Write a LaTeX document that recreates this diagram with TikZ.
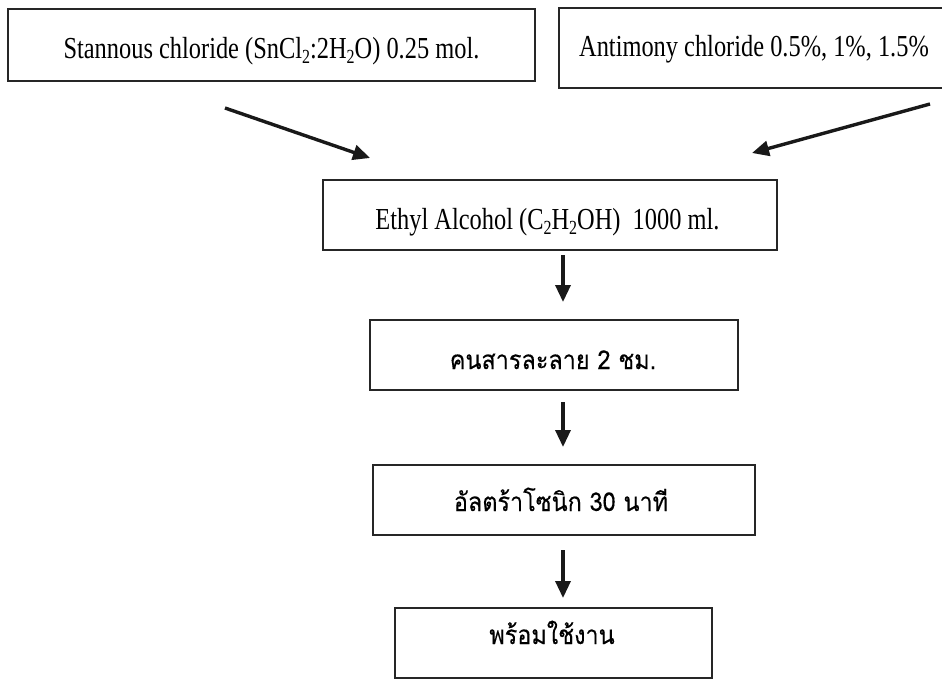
\documentclass[tikz,border=0pt]{standalone}
\usepackage{fontspec}
\setmainfont[FakeStretch=0.8]{Liberation Serif}
\newfontfamily\thaifont[Script=Thai,FakeStretch=0.9,FakeBold=0.3]{Loma}
\usetikzlibrary{arrows.meta}

% lowered small figures for chemical formulas
\newcommand\sbs[1]{\raisebox{-0.4ex}{\fontsize{20}{20}\selectfont #1}}

\begin{document}
\begin{tikzpicture}[x=1pt,y=-1pt,
  stepbox/.style={draw=black!85,line width=1.6pt,fill=white,inner sep=0pt},
  lat/.style={font=\fontsize{30.5}{34}\selectfont,inner sep=0pt,anchor=base},
  thai/.style={font=\thaifont\fontsize{26}{30}\selectfont,inner sep=0pt,anchor=base},
  flow/.style={line width=3.4pt,draw=black!90,-{Triangle[length=17pt,width=15pt]}}]
\useasboundingbox (0,0) rectangle (942,680);
\fill[white] (0,0) rectangle (942,680);
\clip (0,0) rectangle (942,680);

% boxes
\node[stepbox,minimum width=527pt,minimum height=72pt] (stannous) at (271.5,45) {};
\node[stepbox,minimum width=401pt,minimum height=80pt] (antimony) at (759.5,48) {};
\node[stepbox,minimum width=454pt,minimum height=70pt] (ethyl) at (550,215) {};
\node[stepbox,minimum width=368pt,minimum height=70pt] (stir) at (554,355) {};
\node[stepbox,minimum width=382pt,minimum height=70pt] (sonic) at (564,500) {};
\node[stepbox,minimum width=317pt,minimum height=70pt] (ready) at (553.5,643) {};

% labels
\node[lat] (stannousText) at (271.5,58) {Stannous chloride (SnCl\sbs{2}:2H\sbs{2}O) 0.25 mol.};
\node[lat] (antimonyText) at (754,56) {Antimony chloride 0.5\%, 1\%, 1.5\%};
\node[lat] (ethylText) at (547.5,229) {Ethyl Alcohol (C\sbs{2}H\sbs{2}OH)\ \ 1000 ml.};
\node[thai] (stirText) at (553,369) {คนสารละลาย 2 ชม.};
\node[thai] (sonicText) at (561,511) {อัลตร้าโซนิก 30 นาที};
\node[thai] (readyText) at (552,644) {พร้อมใช้งาน};

% arrow end points
\coordinate (inL) at (225,108);
\coordinate (inLtip) at (370,158);
\coordinate (inR) at (930,104);
\coordinate (inRtip) at (752,153);
\coordinate (d1) at (563,255);
\coordinate (d1tip) at (563,302);
\coordinate (d2) at (563,402);
\coordinate (d2tip) at (563,447);
\coordinate (d3) at (563,550);
\coordinate (d3tip) at (563,598);

% connectors
\draw[flow] (inL) -- (inLtip);
\draw[flow] (inR) -- (inRtip);
\draw[flow] (d1) -- (d1tip);
\draw[flow] (d2) -- (d2tip);
\draw[flow] (d3) -- (d3tip);
\end{tikzpicture}
\end{document}
